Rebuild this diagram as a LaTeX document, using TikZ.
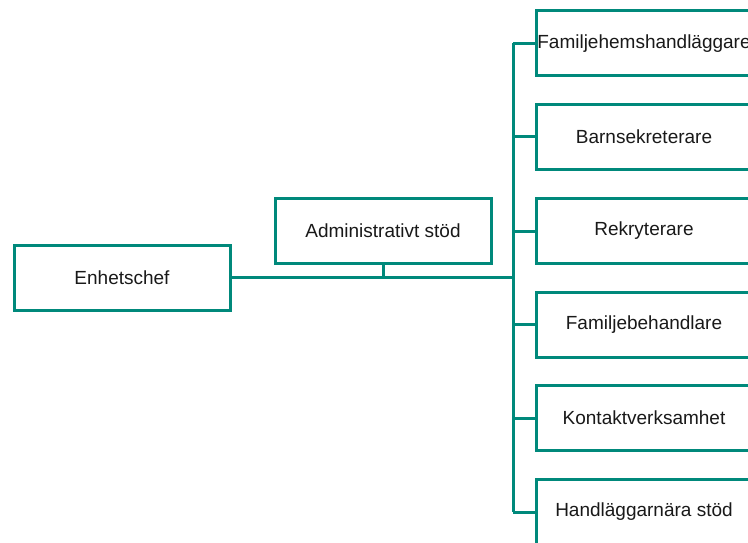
\documentclass[tikz,border=0pt]{standalone}
\usepackage{fontspec}
\setmainfont{Liberation Sans}
\definecolor{teal1}{RGB}{0,137,123}
\begin{document}
\begin{tikzpicture}[x=1pt,y=-1pt,
  box/.style={draw=teal1,line width=3pt,fill=white,minimum width=216pt,minimum height=65pt,inner sep=0pt,font=\fontsize{19}{22}\selectfont,text=black!90},
  link/.style={draw=teal1,line width=3pt}]
\useasboundingbox (0,0) rectangle (748,543);
\clip (0,0) rectangle (748,543);
\node[box] (chef) at (122,277.5) {Enhetschef};
\node[box] (adm) at (383,231) {Administrativt stöd};
\node[box] (r1) at (644,43.5) {Familjehemshandläggare};
\node[box] (r2) at (644,137) {Barnsekreterare};
\node[box] (r3) at (644,231) {Rekryterare};
\node[box] (r4) at (644,324.5) {Familjebehandlare};
\node[box] (r5) at (644,418) {Kontaktverksamhet};
\node[box] (r6) at (644,512) {Handläggarnära stöd};
\coordinate (t1) at (513,43.5);
\coordinate (t6) at (513,512);
\coordinate (tm) at (513,277.5);
\coordinate (am) at (383,277.5);
\draw[link] (chef.east) -- (tm);
\draw[link] (adm.south) -- (am);
\draw[link] (t1) -- (t6);
\foreach \i in {1,...,6} {\draw[link] (r\i.west) -- (513,0 |- r\i.west);}
\end{tikzpicture}
\end{document}
